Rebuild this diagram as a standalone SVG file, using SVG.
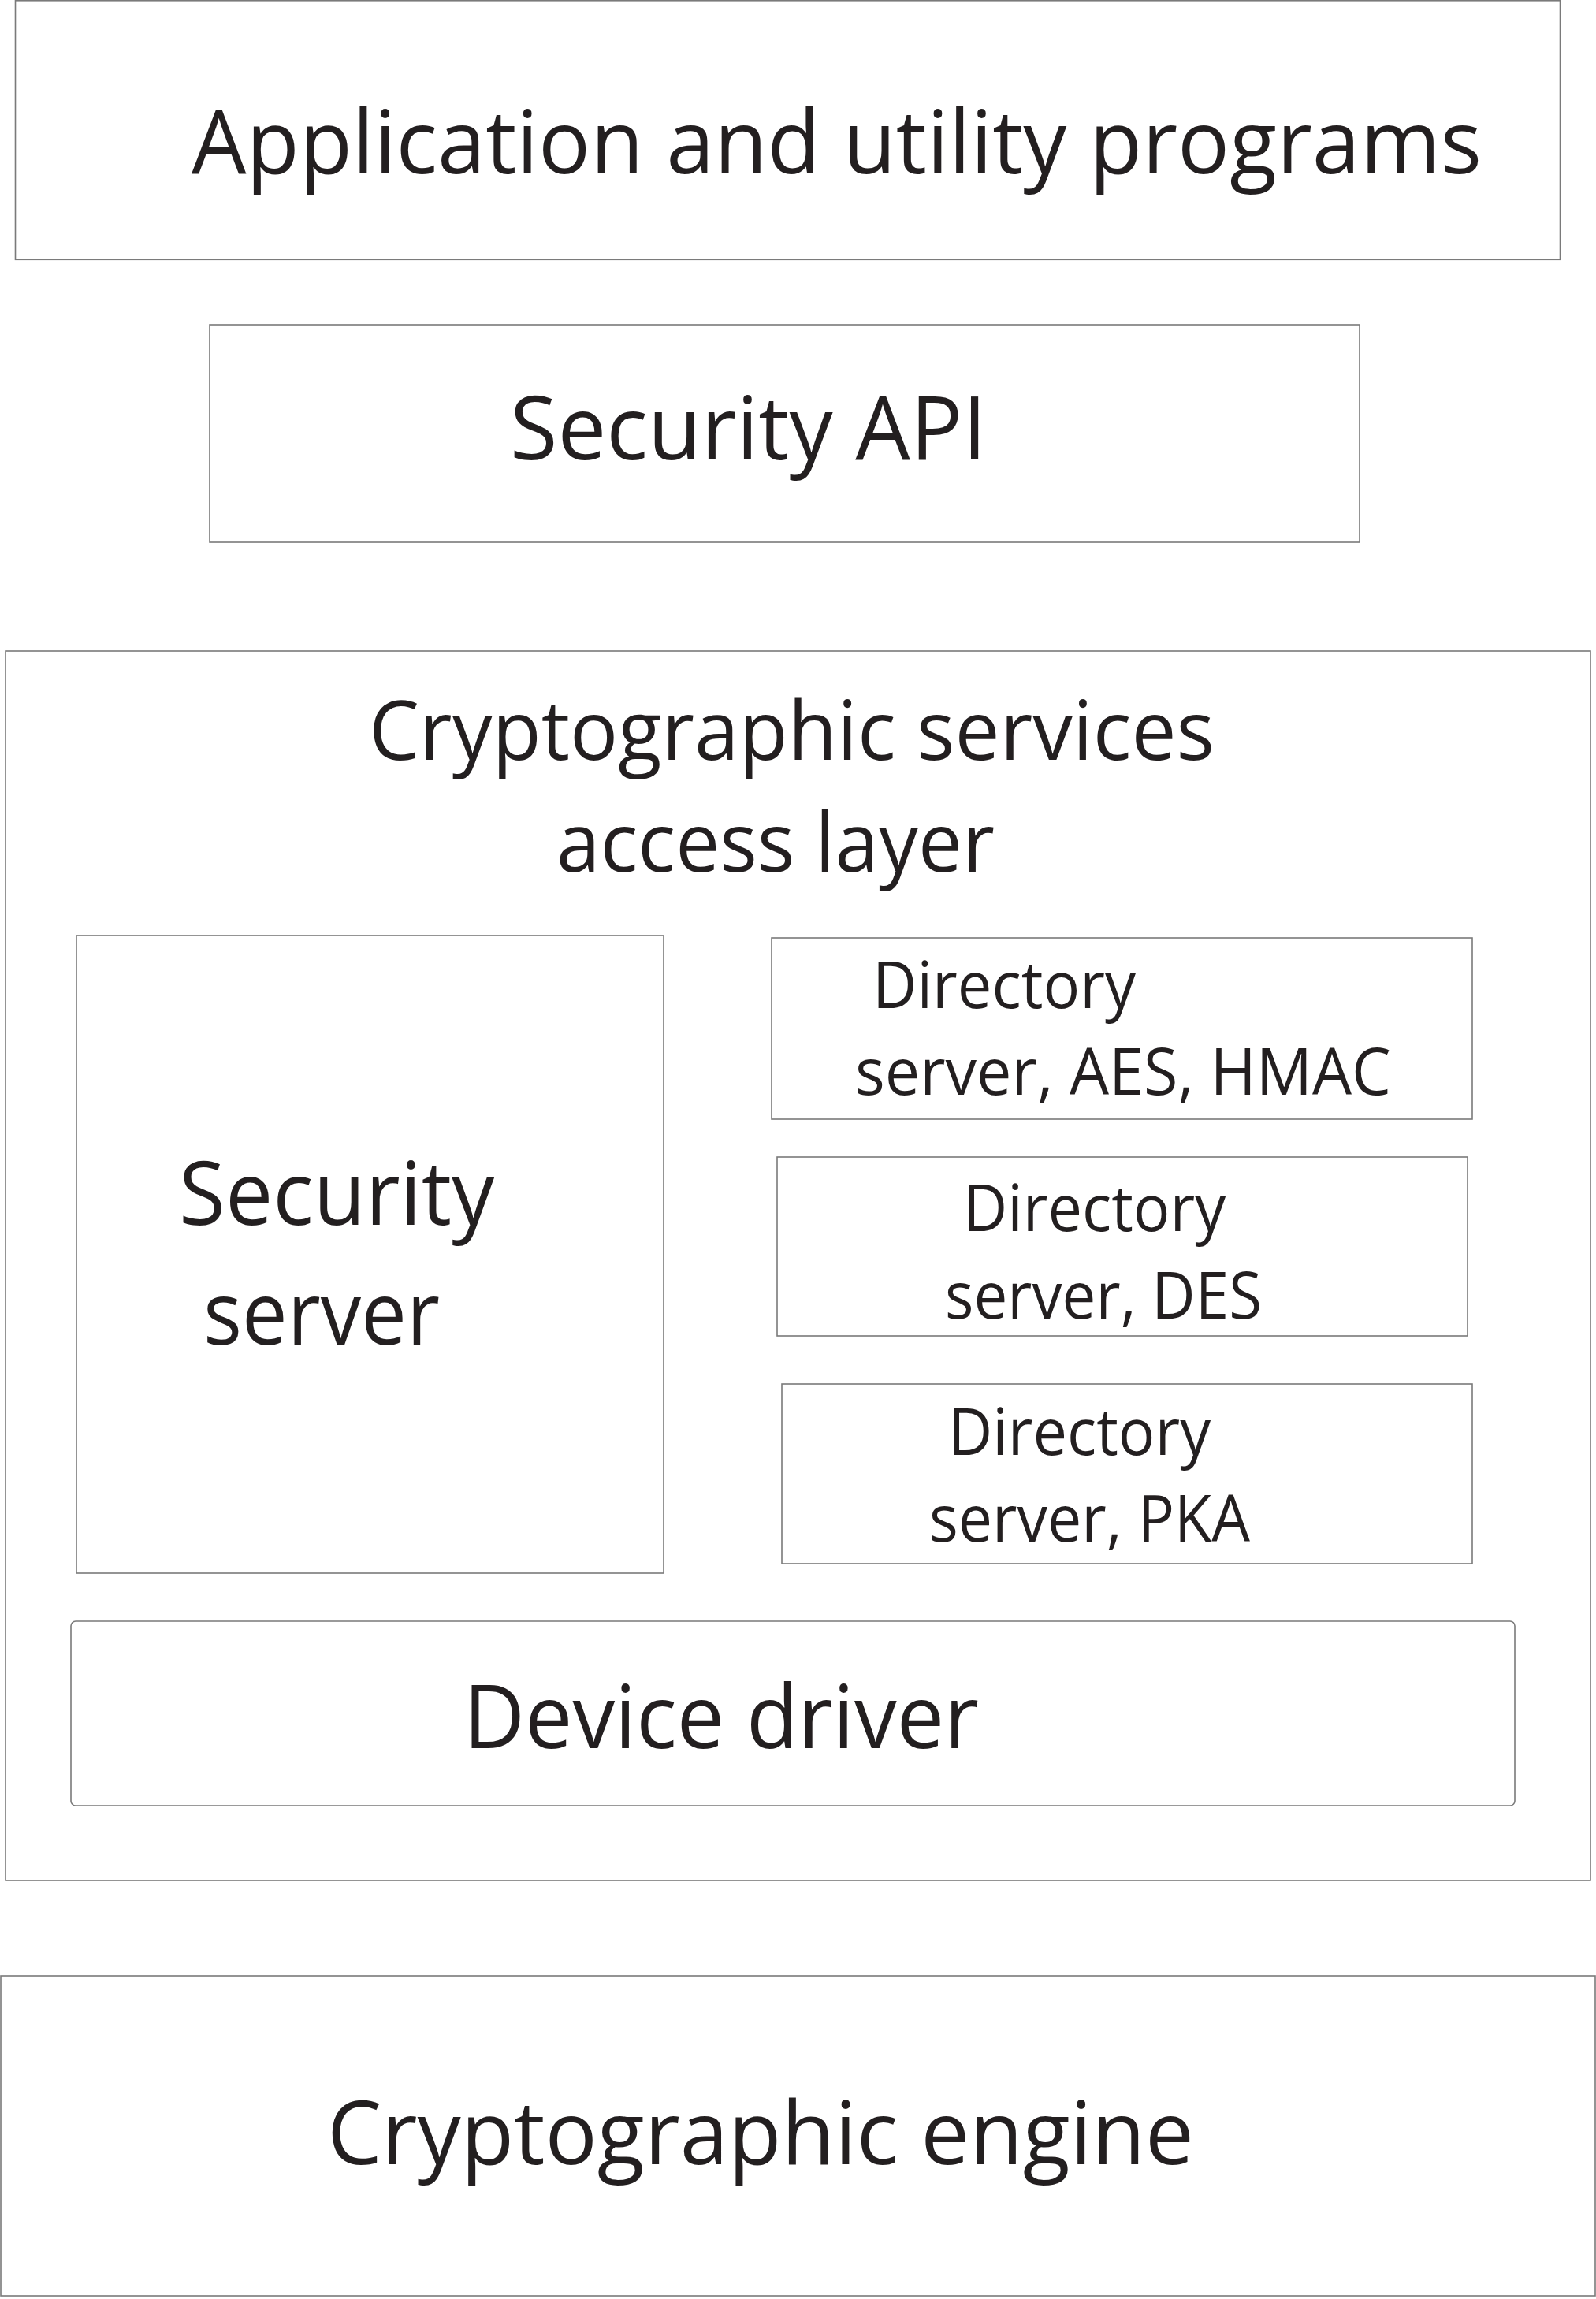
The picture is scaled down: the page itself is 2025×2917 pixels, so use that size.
<svg xmlns="http://www.w3.org/2000/svg" width="2025" height="2917" viewBox="0 0 2025 2917">
<style>
.box{fill:none;stroke:#7a7a7a;stroke-width:1.6}
.t{font-family:"Open Sans","Noto Sans","DejaVu Sans",sans-serif;fill:#231f20;lengthAdjust:spacingAndGlyphs}
.big{font-size:112px}
.mid{font-size:104px}
.sm{font-size:83px}
</style>
<rect width="2025" height="2917" fill="#ffffff"/>
<g id="app">
<rect class="box" x="19.5" y="0.8" width="1960" height="328.5"/>
<text class="t big" x="243" y="220" textLength="1637" lengthAdjust="spacingAndGlyphs">Application and utility programs</text>
</g>
<g id="security-api">
<rect class="box" x="266" y="412" width="1459" height="276"/>
<text class="t big" x="647" y="583" textLength="605" lengthAdjust="spacingAndGlyphs">Security API</text>
</g>
<g id="access-layer">
<rect class="box" x="7" y="826" width="2011" height="1560"/>
<text class="t mid" x="468" y="964" textLength="1073" lengthAdjust="spacingAndGlyphs">Cryptographic services</text>
<text class="t mid" x="706" y="1106" textLength="556" lengthAdjust="spacingAndGlyphs">access layer</text>
</g>
<g id="security-server">
<rect class="box" x="97" y="1187" width="745" height="809"/>
<text class="t big" x="227" y="1554" textLength="400" lengthAdjust="spacingAndGlyphs">Security</text>
<text class="t big" x="258" y="1706" textLength="300" lengthAdjust="spacingAndGlyphs">server</text>
</g>
<g id="dir-aes">
<rect class="box" x="979" y="1190" width="889" height="230"/>
<text class="t sm" x="1107" y="1279" textLength="334" lengthAdjust="spacingAndGlyphs">Directory</text>
<text class="t sm" x="1085" y="1389" textLength="680" lengthAdjust="spacingAndGlyphs">server, AES, HMAC</text>
</g>
<g id="dir-des">
<rect class="box" x="986" y="1468" width="876" height="227"/>
<text class="t sm" x="1222" y="1562" textLength="333" lengthAdjust="spacingAndGlyphs">Directory</text>
<text class="t sm" x="1199" y="1673" textLength="402" lengthAdjust="spacingAndGlyphs">server, DES</text>
</g>
<g id="dir-pka">
<rect class="box" x="992" y="1756" width="876" height="228"/>
<text class="t sm" x="1203" y="1846" textLength="333" lengthAdjust="spacingAndGlyphs">Directory</text>
<text class="t sm" x="1179" y="1956" textLength="407" lengthAdjust="spacingAndGlyphs">server, PKA</text>
</g>
<g id="device-driver">
<rect class="box" x="90" y="2057" width="1832" height="234" rx="6" ry="6"/>
<text class="t big" x="588" y="2218" textLength="654" lengthAdjust="spacingAndGlyphs">Device driver</text>
</g>
<g id="engine">
<rect class="box" x="1" y="2507" width="2023" height="406"/>
<text class="t big" x="415" y="2746" textLength="1100" lengthAdjust="spacingAndGlyphs">Cryptographic engine</text>
</g>
<g id="connectors"></g>
</svg>
